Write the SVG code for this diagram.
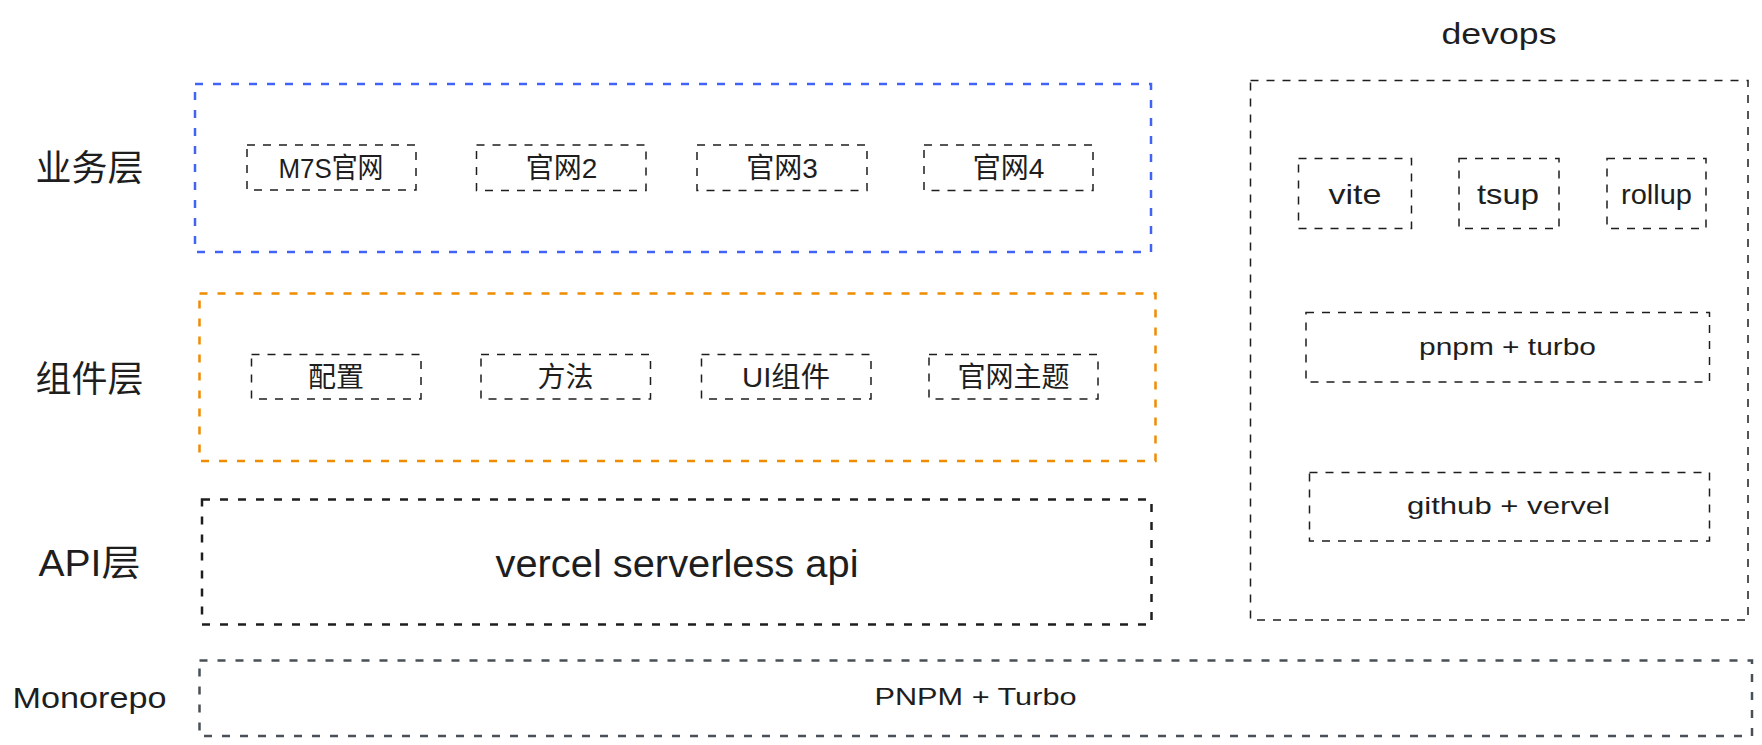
<svg xmlns="http://www.w3.org/2000/svg" width="1762" height="745" viewBox="0 0 1762 745">
  <style>
    .bg { fill: #ffffff; }
    .frame { fill: none; stroke-width: 2.5; stroke-dasharray: 8 10; }
    .blue { stroke: #4263f5; }
    .orange { stroke: #f08c00; }
    .dark { stroke: #1e1e1e; }
    .gray { stroke: #495057; }
    .box { fill: none; stroke: #1e1e1e; stroke-width: 1.5; stroke-dasharray: 8 8; }
    text { fill: #1e1e1e; font-family: "Liberation Sans", "Noto Sans CJK SC", sans-serif; text-anchor: middle; }
    .label { font-size: 36px; }
    .item { font-size: 28px; }
    .small { font-size: 24px; }
  </style>
  <rect class="bg" x="0" y="0" width="1762" height="745"/>

  <g id="label-business"><text class="label" x="89.5" y="180.5">业务层</text></g>
  <g id="label-component"><text class="label" x="89.5" y="391.5">组件层</text></g>
  <g id="label-api"><text class="label" x="89.5" y="576" textLength="102" lengthAdjust="spacingAndGlyphs">API层</text></g>
  <g id="label-monorepo"><text class="label" style="font-size:30px" x="89.5" y="708" textLength="154" lengthAdjust="spacingAndGlyphs">Monorepo</text></g>

  <g id="business-layer">
    <rect class="frame blue" x="195" y="84" width="956" height="168"/>
  </g>
  <g id="m7s"><rect class="box" x="247" y="145" width="169" height="45"/><text class="item" x="331" y="177.5" textLength="105" lengthAdjust="spacingAndGlyphs">M7S官网</text></g>
  <g id="site2"><rect class="box" x="476.5" y="145" width="169.5" height="45.5"/><text class="item" x="561.5" y="177.5">官网2</text></g>
  <g id="site3"><rect class="box" x="697" y="145" width="170" height="45.5"/><text class="item" x="782" y="177.5">官网3</text></g>
  <g id="site4"><rect class="box" x="924" y="145" width="169" height="45.5"/><text class="item" x="1008.5" y="177.5">官网4</text></g>

  <g id="component-layer">
    <rect class="frame orange" x="199.5" y="293.5" width="956" height="167.5"/>
  </g>
  <g id="config"><rect class="box" x="251.5" y="354.5" width="169.5" height="44.5"/><text class="item" x="336" y="387">配置</text></g>
  <g id="method"><rect class="box" x="481" y="354.5" width="169.5" height="44.5"/><text class="item" x="565.5" y="387">方法</text></g>
  <g id="ui"><rect class="box" x="701.5" y="354.5" width="169.5" height="44.5"/><text class="item" x="786" y="387" textLength="88" lengthAdjust="spacingAndGlyphs">UI组件</text></g>
  <g id="theme"><rect class="box" x="929" y="354.5" width="169" height="44.5"/><text class="item" x="1013.5" y="387">官网主题</text></g>

  <g id="api-layer">
    <rect class="frame dark" x="202" y="499.5" width="949.5" height="125"/>
    <text style="font-size:38px" x="677" y="577" textLength="363" lengthAdjust="spacingAndGlyphs">vercel serverless api</text>
  </g>

  <g id="monorepo">
    <rect class="frame gray" x="199.5" y="660.5" width="1552.5" height="75.5"/>
    <text class="small" x="975.5" y="705" textLength="202" lengthAdjust="spacingAndGlyphs">PNPM + Turbo</text>
  </g>

  <g id="devops-title"><text style="font-size:30px" x="1499" y="43.5" textLength="115" lengthAdjust="spacingAndGlyphs">devops</text></g>
  <g id="devops">
    <rect class="box" x="1250.5" y="80.5" width="497.5" height="539.5"/>
  </g>
  <g id="vite"><rect class="box" x="1298.5" y="158.5" width="113" height="70"/><text class="item" x="1355" y="203.5" textLength="53" lengthAdjust="spacingAndGlyphs">vite</text></g>
  <g id="tsup"><rect class="box" x="1459" y="158.5" width="100" height="70"/><text class="item" x="1508" y="203.5" textLength="62" lengthAdjust="spacingAndGlyphs">tsup</text></g>
  <g id="rollup"><rect class="box" x="1607" y="158.5" width="99" height="70"/><text class="item" x="1656.5" y="203.5" textLength="71" lengthAdjust="spacingAndGlyphs">rollup</text></g>
  <g id="pnpm-turbo"><rect class="box" x="1306" y="312.5" width="403.5" height="69.5"/><text class="small" x="1507.5" y="355" textLength="177" lengthAdjust="spacingAndGlyphs">pnpm + turbo</text></g>
  <g id="github-vervel"><rect class="box" x="1309.5" y="472.5" width="400" height="68.5"/><text class="small" x="1508.5" y="513.5" textLength="203" lengthAdjust="spacingAndGlyphs">github + vervel</text></g>

  <g id="connectors"></g>
</svg>
